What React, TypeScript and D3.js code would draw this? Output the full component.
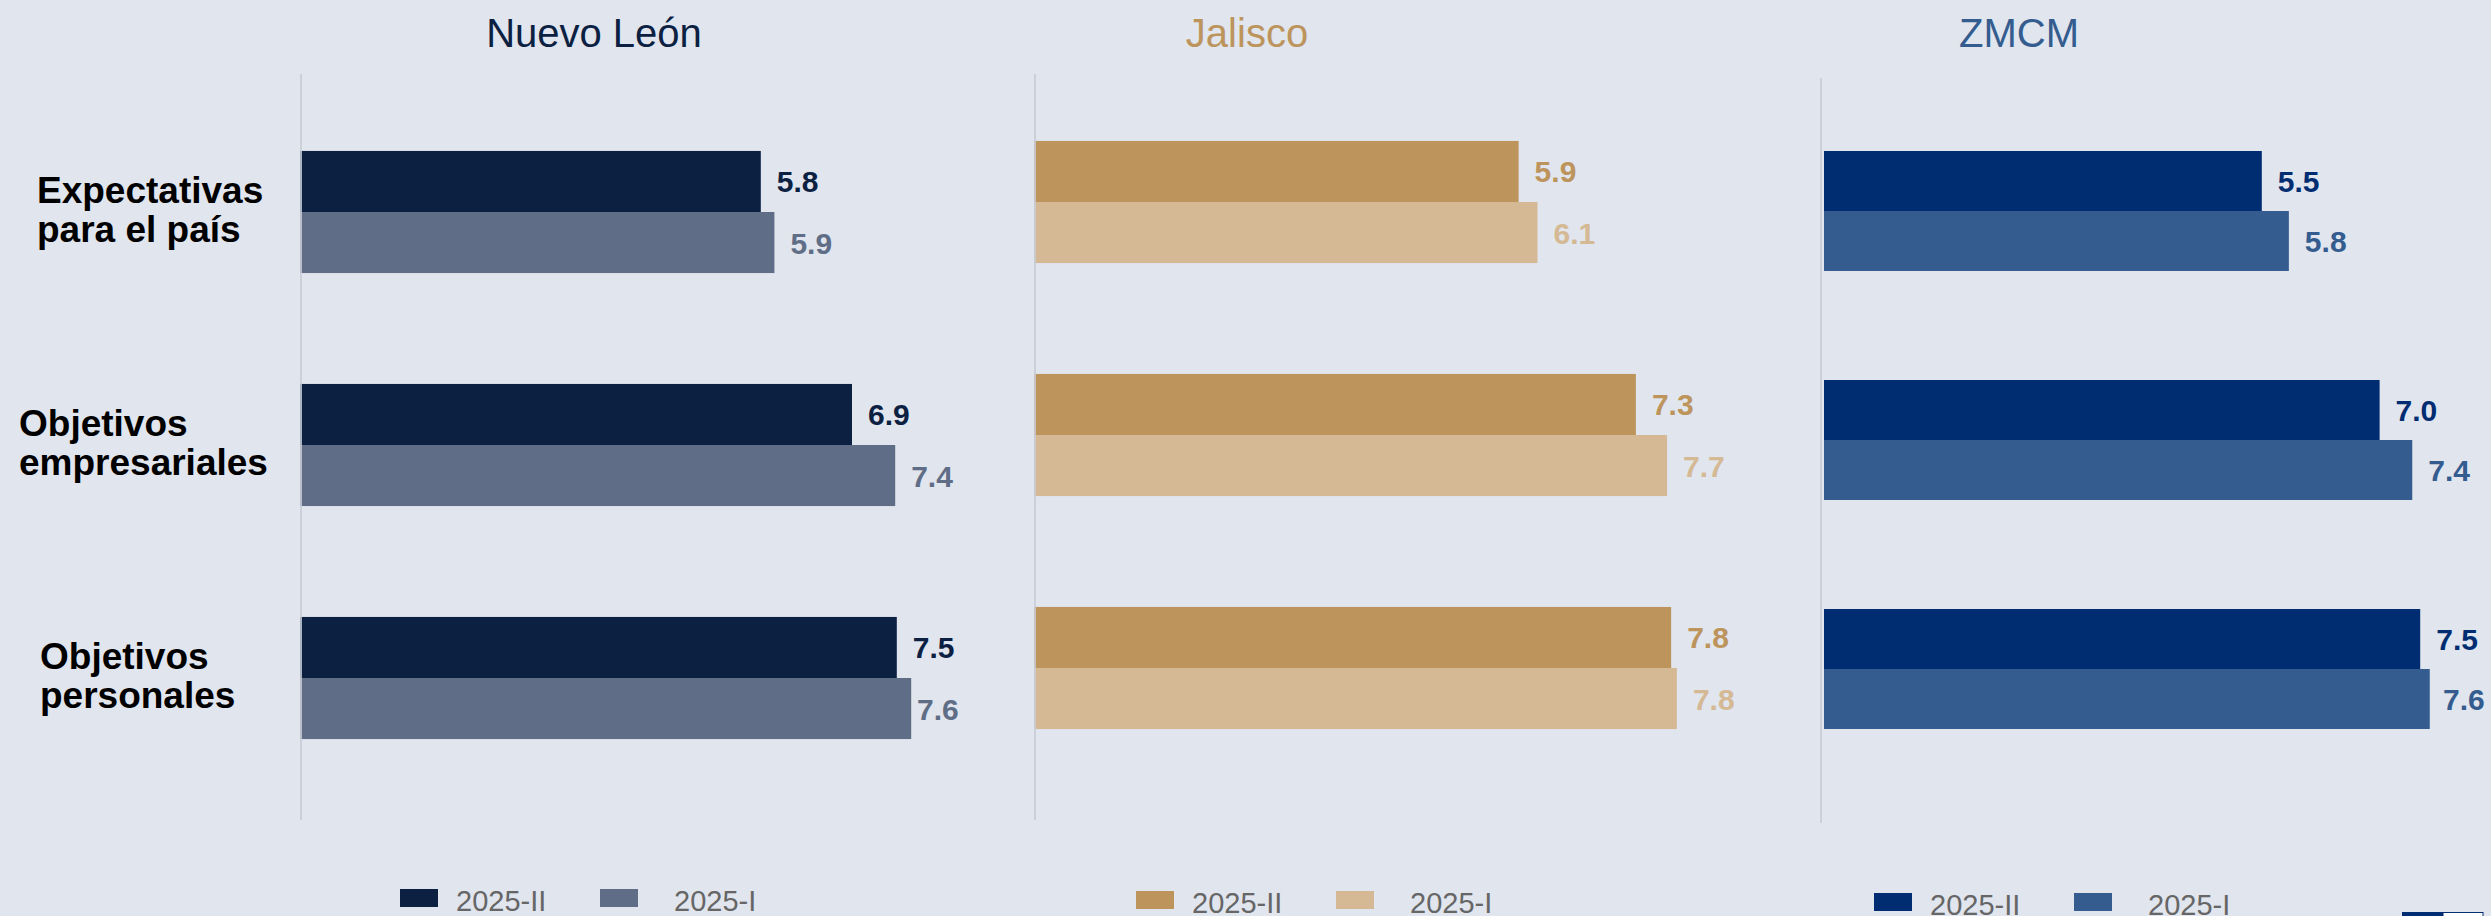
import React from "react";
import * as d3 from "d3";

// ---- data ----
const categories = ["Expectativas para el país", "Objetivos empresariales", "Objetivos personales"];
const categoryLines = [["Expectativas", "para el país"], ["Objetivos", "empresariales"], ["Objetivos", "personales"]];
const seriesNames = ["2025-II", "2025-I"];
const panelTitles = ["Nuevo León", "Jalisco", "ZMCM"];

const nuevoLeon2025II = [5.76, 6.9, 7.46];
const nuevoLeon2025I = [5.93, 7.44, 7.64];
const jalisco2025II = [5.91, 7.34, 7.77];
const jalisco2025I = [6.14, 7.72, 7.84];
const zmcm2025II = [5.5, 6.98, 7.49];
const zmcm2025I = [5.84, 7.39, 7.61];

// ---- layout & style ----
const W = 2491;
const H = 916;
const BG = "#e0e5ee";
const FONT = "'Liberation Sans', Arial, Helvetica, sans-serif";

const panels = [
  {
    title: panelTitles[0],
    titleX: 594,
    titleColor: "#0c2142",
    colors: ["#0c2142", "#5f6e86"],
    values: [nuevoLeon2025II, nuevoLeon2025I],
    x0: 300,
    pxPerUnit: 80,
    axisX: 301,
    axisY: [74, 820],
    band: [95.5, 794.5],
    labelMax: 917,
    legendX: 400,
    legendY: 889,
  },
  {
    title: panelTitles[1],
    titleX: 1247,
    titleColor: "#bc945c",
    colors: ["#bc945c", "#d4b994"],
    values: [jalisco2025II, jalisco2025I],
    x0: 1034,
    pxPerUnit: 82,
    axisX: 1035,
    axisY: [74, 820],
    band: [85.5, 784.5],
    labelMax: 9999,
    legendX: 1136,
    legendY: 891,
  },
  {
    title: panelTitles[2],
    titleX: 2019,
    titleColor: "#345c8f",
    colors: ["#002c71", "#345c8f"],
    values: [zmcm2025II, zmcm2025I],
    x0: 1824,
    pxPerUnit: 79.6,
    axisX: 1821,
    axisY: [78, 823],
    band: [96.5, 783.5],
    labelMax: 2443,
    legendX: 1874,
    legendY: 893,
  },
];

const labelLeft = [37, 19, 40];

function Panel({ p, showCats }: { p: (typeof panels)[number]; showCats: boolean }) {
  const x = d3.scaleLinear().domain([0, 10]).range([p.x0, p.x0 + 10 * p.pxPerUnit]);
  const y = d3.scaleBand<string>().domain(categories).range(p.band as [number, number]).paddingInner(0.476).paddingOuter(0.238);
  const ys = d3.scaleBand<string>().domain(seriesNames).range([0, y.bandwidth()]).padding(0);
  const fmt = d3.format(".1f");
  return (
    <g>
      <text x={p.titleX} y={47} textAnchor="middle" fontSize={40} fill={p.titleColor} fontFamily={FONT}>
        {p.title}
      </text>
      {categories.map((c, ci) => (
        <g key={c}>
          {seriesNames.map((s, si) => {
            const v = p.values[si][ci];
            const yy = (y(c) as number) + (ys(s) as number);
            const bh = ys.bandwidth();
            const xe = x(v);
            const lx = Math.min(xe + 16, p.labelMax);
            return (
              <g key={s}>
                <rect x={x(0)} y={yy} width={xe - x(0)} height={bh} fill={p.colors[si]} />
                <text x={lx} y={yy + bh / 2 + 11} fontSize={30} fontWeight="bold" fill={p.colors[si]} fontFamily={FONT}>
                  {fmt(v)}
                </text>
              </g>
            );
          })}
          {showCats && (
            <text fontSize={37} fontWeight="bold" fill="#000" fontFamily={FONT}>
              {categoryLines[ci].map((ln, li) => (
                <tspan key={li} x={labelLeft[ci]} y={(y(c) as number) + y.bandwidth() / 2 - 9 + li * 39}>
                  {ln}
                </tspan>
              ))}
            </text>
          )}
        </g>
      ))}
      <line x1={p.axisX} x2={p.axisX} y1={p.axisY[0]} y2={p.axisY[1]} stroke="#c9cdd6" strokeWidth={2} opacity={0.85} />
      {seriesNames.map((s, si) => (
        <g key={s}>
          <rect x={p.legendX + si * 200} y={p.legendY} width={38} height={18} fill={p.colors[si]} />
          <text x={p.legendX + si * 200 + (si === 0 ? 56 : 74)} y={p.legendY + 22} fontSize={29} fill="#666666" fontFamily={FONT}>
            {s}
          </text>
        </g>
      ))}
    </g>
  );
}

export default function App() {
  return (
    <svg width={W} height={H} style={{ position: "absolute", left: 0, top: 0, display: "block" }}>
      <rect x={0} y={0} width={W} height={H} fill={BG} />
      {panels.map((p, i) => (
        <Panel key={p.title} p={p} showCats={i === 0} />
      ))}
      <rect x={2402} y={912} width={41} height={10} fill="#002c71" />
      <rect x={2443} y={912.5} width={40} height={10} fill="#ffffff" stroke="#002c71" strokeWidth={1} />
    </svg>
  );
}
